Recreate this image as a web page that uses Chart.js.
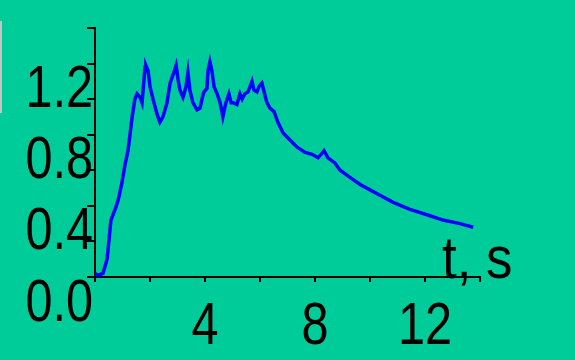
<!DOCTYPE html>
<html>
<head>
<meta charset="utf-8">
<script src="https://cdn.jsdelivr.net/npm/chart.js@4/dist/chart.umd.min.js"></script>
<style>
  html, body { margin: 0; padding: 0; background: #00cc99; }
  #wrap { width: 575px; height: 360px; }
</style>
</head>
<body>
<div id="wrap"><canvas id="c" width="575" height="360"></canvas></div>
<script>
// Time axis (s) and measured signal
const timeS = [0, 0.11, 0.29, 0.44, 0.51, 0.58, 0.73, 0.84, 0.98, 1.09, 1.2, 1.35, 1.45, 1.53, 1.64, 1.71, 1.82, 1.85, 1.93, 2.0,
  2.11, 2.25, 2.36, 2.47, 2.62, 2.73, 2.87, 2.95, 3.02, 3.09, 3.2, 3.31, 3.38, 3.45, 3.56, 3.71, 3.82, 3.89, 3.96, 4.07,
  4.11, 4.18, 4.25, 4.33, 4.44, 4.55, 4.65, 4.76, 4.87, 4.95, 5.02, 5.16, 5.27, 5.35, 5.45, 5.56, 5.71, 5.78, 5.89, 5.96,
  6.07, 6.15, 6.25, 6.36, 6.51, 6.65, 6.84, 7.09, 7.35, 7.64, 7.89, 8.11, 8.33, 8.47, 8.73, 8.91, 9.27, 9.64, 10.0, 10.36,
  10.84, 11.45, 12.07, 12.65, 13.27, 13.75];
const signal = [0.02, 0.01, 0.02, 0.10, 0.21, 0.32, 0.38, 0.43, 0.53, 0.63, 0.71, 0.90, 1.00, 1.03, 1.01, 0.98, 1.18, 1.19, 1.16, 1.07,
  1.00, 0.92, 0.87, 0.90, 0.98, 1.09, 1.15, 1.19, 1.11, 1.05, 1.01, 1.07, 1.15, 1.05, 0.98, 0.94, 0.95, 1.00, 1.04, 1.06,
  1.16, 1.21, 1.16, 1.07, 1.03, 0.98, 0.90, 0.98, 1.03, 0.98, 0.98, 0.97, 1.03, 1.00, 1.03, 1.04, 1.10, 1.05, 1.04, 1.07,
  1.09, 1.04, 0.98, 0.95, 0.93, 0.87, 0.81, 0.77, 0.73, 0.70, 0.69, 0.67, 0.71, 0.67, 0.64, 0.60, 0.56, 0.52, 0.49, 0.46,
  0.42, 0.38, 0.35, 0.32, 0.30, 0.28];
// Labelled ticks
const yTickLabels = [0.0, 0.4, 0.8, 1.2];
const xTickLabels = [4, 8, 12];
const xAxisTitle = 't, s';

const FONT = '60px "Liberation Sans", Arial, sans-serif';
const SQUEEZE = 0.81;   // condensed lettering
const BG = '#00cc99';

const points = timeS.map((t, i) => ({ x: t, y: signal[i] }));

function condensedText(ctx, text, x, y, align, baseline, squeeze) {
  ctx.save();
  ctx.translate(x, y);
  ctx.scale(squeeze || SQUEEZE, 1);
  ctx.font = FONT;
  ctx.fillStyle = '#000';
  ctx.textAlign = align;
  ctx.textBaseline = baseline;
  ctx.fillText(text, 0, 0);
  ctx.restore();
}

const decor = {
  id: 'decor',
  beforeDraw(chart) {
    const ctx = chart.ctx;
    ctx.save();
    ctx.fillStyle = BG;
    ctx.fillRect(0, 0, chart.width, chart.height);
    // thin light edge mark on the left
    ctx.fillStyle = '#c4c4c4';
    ctx.fillRect(0, 21, 2, 92);
    ctx.restore();
  },
  afterDraw(chart) {
    const ctx = chart.ctx;
    const area = chart.chartArea;
    const xs = chart.scales.x, ys = chart.scales.y;
    // y labels sit a little below their ticks
    yTickLabels.forEach(v => {
      condensedText(ctx, v.toFixed(1), area.left - 2, ys.getPixelForValue(v) + 27, 'right', 'middle');
    });
    xTickLabels.forEach(v => {
      condensedText(ctx, String(v), xs.getPixelForValue(v), area.bottom + 50, 'center', 'middle');
    });
    condensedText(ctx, xAxisTitle, area.right - 38, area.bottom + 1, 'left', 'alphabetic', 0.88);
  }
};

new Chart(document.getElementById('c'), {
  type: 'line',
  data: {
    datasets: [{
      data: points,
      borderColor: '#0000ff',
      borderWidth: 3.5,
      pointRadius: 0,
      tension: 0,
      fill: false
    }]
  },
  options: {
    responsive: false,
    animation: false,
    layout: { padding: { top: 28, right: 95, left: 0, bottom: 0 } },
    plugins: { legend: { display: false }, tooltip: { enabled: false } },
    scales: {
      x: {
        type: 'linear',
        min: 0, max: 14,
        border: { display: true, color: '#000', width: 2 },
        grid: { display: true, drawOnChartArea: false, drawTicks: true, tickLength: 5, color: '#000', lineWidth: 2 },
        ticks: { stepSize: 2, autoSkip: false, maxRotation: 0, callback: () => '' },
        afterFit(scale) {
          scale.height = 83;
          scale.paddingLeft = 0; scale.paddingRight = 0;
        }
      },
      y: {
        min: 0, max: 1.4,
        border: { display: true, color: '#000', width: 2 },
        grid: { display: true, drawOnChartArea: false, drawTicks: true, tickLength: 8, color: '#000', lineWidth: 2 },
        ticks: { stepSize: 0.2, autoSkip: false, callback: () => '' },
        afterFit(scale) {
          scale.width = 95;
          scale.paddingTop = 0; scale.paddingBottom = 0;
        }
      }
    }
  },
  plugins: [decor]
});
</script>
</body>
</html>
